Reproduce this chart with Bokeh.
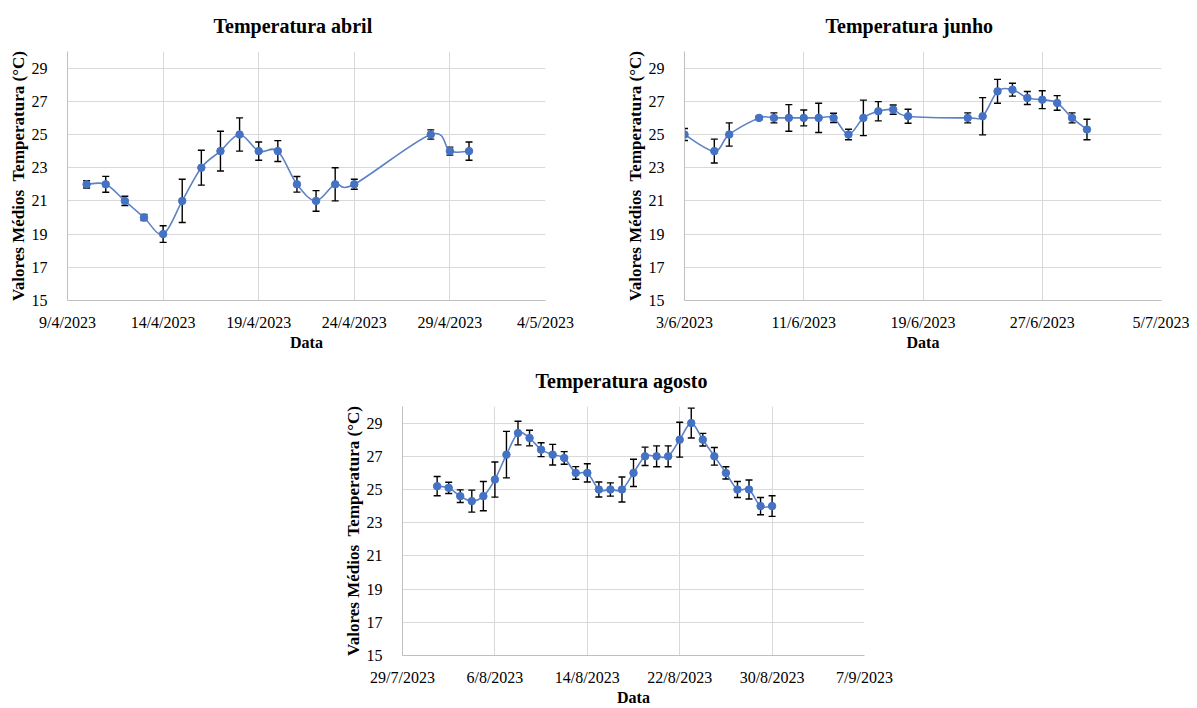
from datetime import datetime
from bokeh.plotting import figure
from bokeh.models import ColumnDataSource, Whisker, TeeHead, FixedTicker, Range1d, Spacer
from bokeh.layouts import column, row
from bokeh.embed import file_html
from bokeh.resources import INLINE

# ---------------- data ----------------
abril_dates = ["10/4/2023", "11/4/2023", "12/4/2023", "13/4/2023", "14/4/2023", "15/4/2023",
               "16/4/2023", "17/4/2023", "18/4/2023", "19/4/2023", "20/4/2023", "21/4/2023",
               "22/4/2023", "23/4/2023", "24/4/2023", "28/4/2023", "29/4/2023", "30/4/2023"]
abril_temp = [22.0, 22.0, 21.0, 20.0, 19.0, 21.0, 23.0, 24.0, 25.0, 24.0, 24.0, 22.0,
              21.0, 22.0, 22.0, 25.0, 24.0, 24.0]
abril_err = [0.22, 0.48, 0.28, 0.18, 0.5, 1.3, 1.05, 1.2, 1.0, 0.55, 0.63, 0.47,
             0.62, 1.0, 0.3, 0.28, 0.24, 0.55]
abril_ticks = ["9/4/2023", "14/4/2023", "19/4/2023", "24/4/2023", "29/4/2023", "4/5/2023"]

junho_dates = ["3/6/2023", "5/6/2023", "6/6/2023", "8/6/2023", "9/6/2023", "10/6/2023",
               "11/6/2023", "12/6/2023", "13/6/2023", "14/6/2023", "15/6/2023", "16/6/2023",
               "17/6/2023", "18/6/2023", "22/6/2023", "23/6/2023", "24/6/2023", "25/6/2023",
               "26/6/2023", "27/6/2023", "28/6/2023", "29/6/2023", "30/6/2023"]
junho_temp = [25.0, 24.0, 25.0, 26.0, 26.0, 26.0, 26.0, 26.0, 26.0, 25.0, 26.0, 26.4,
              26.5, 26.1, 26.0, 26.1, 27.6, 27.7, 27.2, 27.1, 26.9, 26.0, 25.3]
junho_err = [0.36, 0.72, 0.7, 0.1, 0.3, 0.8, 0.48, 0.88, 0.28, 0.32, 1.07, 0.58,
             0.28, 0.42, 0.3, 1.12, 0.72, 0.39, 0.39, 0.54, 0.44, 0.3, 0.62]
junho_ticks = ["3/6/2023", "11/6/2023", "19/6/2023", "27/6/2023", "5/7/2023"]

agosto_dates = ["%d/8/2023" % d for d in range(1, 31)]
agosto_temp = [25.2, 25.1, 24.6, 24.3, 24.6, 25.6, 27.1, 28.4, 28.1, 27.4, 27.1, 26.9,
               26.0, 26.0, 25.0, 25.0, 25.0, 26.0, 27.0, 27.0, 27.0, 28.0, 29.0, 28.0,
               27.0, 26.0, 25.0, 25.0, 24.0, 24.0]
agosto_err = [0.58, 0.34, 0.38, 0.66, 0.88, 1.06, 1.4, 0.71, 0.47, 0.42, 0.62, 0.38,
              0.38, 0.55, 0.45, 0.4, 0.75, 0.82, 0.55, 0.63, 0.63, 1.05, 0.9, 0.38,
              0.53, 0.37, 0.48, 0.57, 0.52, 0.62]
agosto_ticks = ["29/7/2023", "6/8/2023", "14/8/2023", "22/8/2023", "30/8/2023", "7/9/2023"]

y_ticks = [15, 17, 19, 21, 23, 25, 27, 29]
y_min, y_max = 15, 30

y_title = "Valores Médios \u00a0Temperatura (°C)"
x_title = "Data"

# ---------------- style ----------------
FONT = "Liberation Serif"
LINE_C = "#5E82C6"
MARK_C = "#4472C4"
GRID_C = "#D9D9D9"
AXIS_C = "#BFBFBF"
EPOCH = datetime(1970, 1, 1)


def to_day(s):
    return (datetime.strptime(s, "%d/%m/%Y") - EPOCH).days


def make_chart(title, dates, temps, errs, ticks, frame_w, border_l, border_r,
               border_t, border_b, title_off):
    xs = [to_day(d) for d in dates]
    tick_pos = [to_day(t) for t in ticks]
    p = figure(frame_width=frame_w, frame_height=249,
               min_border_left=border_l, min_border_right=border_r,
               min_border_top=border_t, min_border_bottom=border_b,
               x_range=Range1d(tick_pos[0], tick_pos[-1]),
               y_range=Range1d(y_min, y_max),
               output_backend="svg", toolbar_location=None)
    p.outline_line_color = None
    p.background_fill_color = "white"
    p.border_fill_color = "white"

    # title
    p.title.text = title
    p.title.align = "left"
    p.title.offset = title_off
    p.title.vertical_align = "top"
    p.title.text_font = FONT
    p.title.text_font_size = "20px"
    p.title.text_font_style = "bold"
    p.title.text_color = "black"
    p.title.standoff = 26

    # axes
    xa = p.xaxis[0]
    xa.ticker = FixedTicker(ticks=tick_pos)
    xa.major_label_overrides = {tp: lab for tp, lab in zip(tick_pos, ticks)}
    ya = p.yaxis[0]
    ya.ticker = FixedTicker(ticks=y_ticks)
    for ax in (xa, ya):
        ax.axis_line_color = AXIS_C
        ax.major_tick_line_color = None
        ax.minor_tick_line_color = None
        ax.major_label_text_font = FONT
        ax.major_label_text_font_size = "16px"
        ax.major_label_text_color = "black"
        ax.axis_label_text_font = FONT
        ax.axis_label_text_font_style = "bold"
        ax.axis_label_text_color = "black"
    xa.axis_label = x_title
    xa.axis_label_text_font_size = "16px"
    xa.major_label_standoff = 7
    xa.axis_label_standoff = 0
    ya.axis_label = y_title
    ya.axis_label_text_font_size = "17px"
    ya.major_label_standoff = 14
    ya.axis_label_standoff = 1

    p.xgrid.grid_line_color = GRID_C
    p.ygrid.grid_line_color = GRID_C
    p.xgrid.ticker = xa.ticker
    p.ygrid.ticker = ya.ticker

    # smoothed line (cubic Bezier segments through the data points)
    n = len(xs)
    x0, y0, x1, y1, cx0, cy0, cx1, cy1 = [], [], [], [], [], [], [], []
    for i in range(n - 1):
        xp, yp = (xs[i - 1], temps[i - 1]) if i > 0 else (xs[i], temps[i])
        xn, yn = (xs[i + 2], temps[i + 2]) if i + 2 < n else (xs[i + 1], temps[i + 1])
        x0.append(xs[i]); y0.append(temps[i])
        x1.append(xs[i + 1]); y1.append(temps[i + 1])
        cx0.append(xs[i] + (xs[i + 1] - xp) / 6.0)
        cy0.append(temps[i] + (temps[i + 1] - yp) / 6.0)
        cx1.append(xs[i + 1] - (xn - xs[i]) / 6.0)
        cy1.append(temps[i + 1] - (yn - temps[i]) / 6.0)
    p.bezier(x0=x0, y0=y0, x1=x1, y1=y1, cx0=cx0, cy0=cy0, cx1=cx1, cy1=cy1,
             line_color=LINE_C, line_width=1.6)

    src = ColumnDataSource(dict(
        x=xs, y=temps,
        upper=[t + e for t, e in zip(temps, errs)],
        lower=[t - e for t, e in zip(temps, errs)]))
    w = Whisker(source=src, base="x", upper="upper", lower="lower",
                line_color="black", line_width=1.4,
                upper_head=TeeHead(size=7, line_color="black", line_width=1.4),
                lower_head=TeeHead(size=7, line_color="black", line_width=1.4),
                level="underlay")
    p.add_layout(w)
    p.scatter("x", "y", source=src, marker="circle", size=7.5,
              fill_color=MARK_C, line_color=MARK_C)
    return p


p1 = make_chart("Temperatura abril", abril_dates, abril_temp, abril_err, abril_ticks,
                frame_w=478, border_l=67, border_r=50, border_t=51, border_b=53,
                title_off=146)
p2 = make_chart("Temperatura junho", junho_dates, junho_temp, junho_err, junho_ticks,
                frame_w=477, border_l=89, border_r=28, border_t=51, border_b=53,
                title_off=141)
p3 = make_chart("Temperatura agosto", agosto_dates, agosto_temp, agosto_err, agosto_ticks,
                frame_w=462, border_l=59, border_r=40, border_t=53, border_b=50,
                title_off=133)

layout = column(row(p1, p2), row(Spacer(width=340, height=10), p3))

open("out.html", "w").write(file_html(layout, INLINE))
